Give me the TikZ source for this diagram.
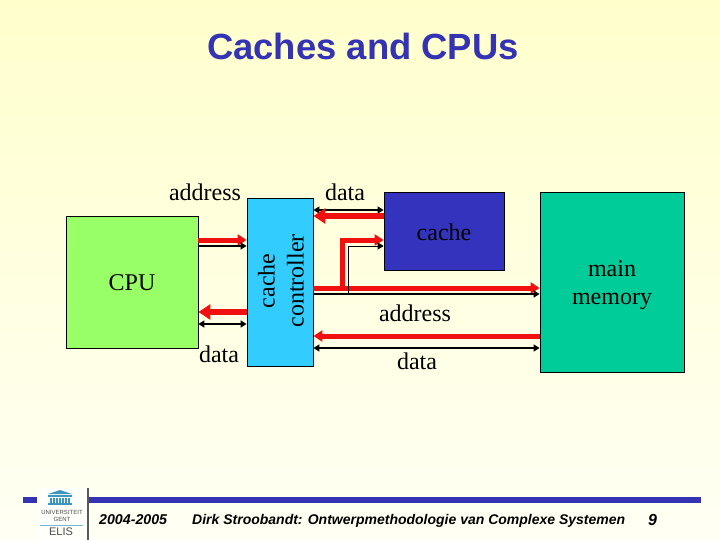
\documentclass[tikz,border=0pt]{standalone}
\usepackage{fontspec}
\setmainfont{Liberation Serif}
\newfontfamily\arialf{Liberation Sans}
\usetikzlibrary{arrows.meta,calc}
\definecolor{bgtop}{RGB}{255,255,204}
\definecolor{bgbot}{RGB}{255,255,244}
\definecolor{titleblue}{RGB}{51,51,179}
\definecolor{cpugreen}{RGB}{153,255,102}
\definecolor{ctrlblue}{RGB}{51,204,255}
\definecolor{cacheblue}{RGB}{51,51,190}
\definecolor{memgreen}{RGB}{0,204,153}
\definecolor{busred}{RGB}{240,16,16}
\definecolor{logoblue}{RGB}{60,150,190}
\tikzset{
  x=1pt,y=-1pt,
  lab/.style={font=\fontsize{24}{27}\selectfont,inner sep=0pt,align=center},
  blackbus/.style={draw=black,line width=2pt,-{Triangle[length=6pt,width=7pt]}},
  blackboth/.style={draw=black,line width=2pt,{Triangle[length=6pt,width=7pt]}-{Triangle[length=6pt,width=7pt]}},
  redbus/.style={draw=busred,line width=5pt,-{Triangle[length=9pt,width=11pt]}},
  redfat/.style={draw=busred,line width=6pt,-{Triangle[length=12pt,width=15pt]}},
  footer/.style={font=\arialf\bfseries\itshape\fontsize{14}{16}\selectfont,inner sep=0pt,anchor=base west},
}
\begin{document}
\begin{tikzpicture}
\useasboundingbox (0,0) rectangle (720,540);
\shade[top color=bgtop,bottom color=bgbot] (0,0) rectangle (720,540);
\node[font=\arialf\bfseries\fontsize{36.4}{40}\selectfont,text=titleblue,inner sep=0pt] (title) at (363,46) {Caches and CPUs};

\node[draw=black,line width=0.8pt,fill=cpugreen,minimum width=132pt,minimum height=132pt,inner sep=0pt] (cpu) at (132,282) {};
\node[draw=black,line width=0.8pt,fill=ctrlblue,minimum width=66pt,minimum height=168pt,inner sep=0pt] (ctrl) at (280,282) {};
\node[draw=black,line width=0.8pt,fill=cacheblue,minimum width=120pt,minimum height=78pt,inner sep=0pt] (cache) at (444,231) {};
\node[draw=black,line width=0.8pt,fill=memgreen,minimum width=144pt,minimum height=180pt,inner sep=0pt] (mem) at (612,282) {};

\node[lab] (tcpu) at (132,283) {CPU};
\node[lab,rotate=90] (tctrl) at (281,281) {cache\\[2pt]controller};
\node[lab] (tcache) at (444,232) {cache};
\node[lab] (tmem) at (612,285) {main\\[1pt]memory};
\node[lab] (taddr1) at (205,192) {address};
\node[lab] (tdata1) at (345,192) {data};
\node[lab] (tdata2) at (219,354) {data};
\node[lab] (taddr2) at (415,313) {address};
\node[lab] (tdata3) at (417,361) {data};

% CPU <-> controller
\path[redbus] (cpu.east|-0,240) -- (ctrl.west|-0,240);
\path[blackbus] (cpu.east|-0,246) -- (ctrl.west|-0,246);
\path[redfat] (ctrl.west|-0,312) -- (cpu.east|-0,312);
\path[blackboth] (cpu.east|-0,324) -- (ctrl.west|-0,324);
% controller <-> cache data
\path[blackboth] (ctrl.east|-0,210) -- (cache.west|-0,210);
\path[redfat] (cache.west|-0,216) -- (ctrl.east|-0,216);
% address to main memory and branch to cache
\path[redbus] (ctrl.east|-0,288) -- (mem.west|-0,288);
\path[blackbus] (ctrl.east|-0,294) -- (mem.west|-0,294);
\coordinate (rb) at (342,288);
\coordinate (bb) at (348,294);
\path[redbus] (rb) |- (cache.west|-0,240);
\path[blackbus,line width=1pt] (bb) |- (cache.west|-0,246);
% data main memory
\path[redbus] (mem.west|-0,336) -- (ctrl.east|-0,336);
\path[blackboth] (ctrl.east|-0,348) -- (mem.west|-0,348);

% footer
\fill[titleblue] (23,497) rectangle (701,503);
\node[fill=white!70!bgbot,minimum width=51pt,minimum height=52pt,inner sep=0pt] (logo) at (62.5,514) {};
\draw[gray!70!black,line width=1.6pt] (88,488) -- (88,540);
\fill[logoblue] (48,494) -- (60,490) -- (72,494) -- cycle;
\fill[logoblue] (48,495) rectangle (72,497);
\foreach \xx in {50,53,56,59,62,65,68} \fill[logoblue] (\xx,498) rectangle ++(1.6,5);
\fill[logoblue] (48,503) rectangle (72,505);
\node[font=\arialf\fontsize{6}{7}\selectfont,text=gray!60!black,inner sep=0pt,align=center] (logot) at (62,516) {UNIVERSITEIT\\GENT};
\draw[logoblue!70,line width=0.6pt] (40,525) -- (83,525);
\node[font=\arialf\fontsize{11}{12}\selectfont,text=gray!60!black,inner sep=0pt] (elis) at (61,532) {ELIS};
\node[footer,font=\arialf\bfseries\itshape\fontsize{14.2}{16}\selectfont] (f1) at (99,524) {2004-2005};
\node[footer] (f2) at (192,524) {Dirk Stroobandt: Ontwerpmethodologie van Complexe Systemen};
\node[footer,font=\arialf\bfseries\itshape\fontsize{16}{18}\selectfont] (f3) at (648,525) {9};
\end{tikzpicture}
\end{document}
